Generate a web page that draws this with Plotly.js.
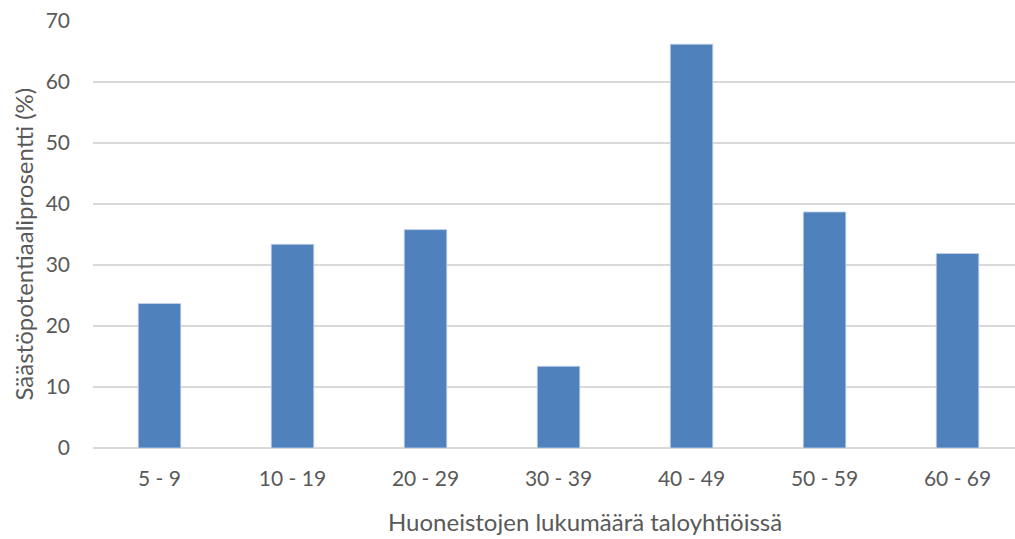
<!DOCTYPE html>
<html>
<head>
<meta charset="utf-8">
<script src="https://cdn.plot.ly/plotly-3.0.1.min.js"></script>
<style>html,body{margin:0;padding:0;background:#fff;overflow:hidden;}#chart{width:1015px;height:539px;}</style>
</head>
<body>
<div id="chart"></div>
<script>
var categories = ["5 - 9", "10 - 19", "20 - 29", "30 - 39", "40 - 49", "50 - 59", "60 - 69"];
var values = [23.7, 33.4, 35.8, 13.4, 66.2, 38.7, 31.9];
var yTicks = [0, 10, 20, 30, 40, 50, 60, 70];
var xTitle = "Huoneistojen lukumäärä taloyhtiöissä";
var yTitle = "Säästöpotentiaaliprosentti (%)";

var trace = {
  type: "bar",
  x: categories,
  y: values,
  width: 0.32,
  marker: {color: "#4f81bd", line: {color: "#c9d6ea", width: 0.8}},
  hoverinfo: "x+y"
};

var layout = {
  width: 1015,
  height: 539,
  margin: {l: 93, r: 0, t: 21, b: 91, pad: 0},
  paper_bgcolor: "#ffffff",
  plot_bgcolor: "#ffffff",
  font: {family: "Lato, sans-serif", color: "#595959", size: 21},
  showlegend: false,
  xaxis: {
    type: "category",
    range: [-0.5, 6.432],
    showgrid: false,
    zeroline: false,
    showline: false,
    ticks: "",
    tickfont: {size: 21, color: "#595959"},
    ticklabelstandoff: 16
  },
  yaxis: {
    range: [0, 70],
    tickvals: yTicks,
    showgrid: true,
    gridcolor: "#d9d9d9",
    gridwidth: 1.5,
    zeroline: true,
    zerolinecolor: "#d9d9d9",
    zerolinewidth: 1.5,
    showline: false,
    ticks: "",
    tickfont: {size: 21, color: "#595959"},
    ticklabelstandoff: 22
  },
  annotations: [
    {
      text: xTitle, xref: "paper", yref: "paper",
      x: 0.5336, y: -0.171, xanchor: "center", yanchor: "middle",
      showarrow: false, font: {size: 24, color: "#595959"}
    },
    {
      text: yTitle, xref: "paper", yref: "paper", textangle: -90,
      x: -0.0759, y: 0.4766, xanchor: "center", yanchor: "middle",
      showarrow: false, font: {size: 24, color: "#595959"}
    }
  ]
};

Plotly.newPlot("chart", [trace], layout, {displayModeBar: false, staticPlot: true});
</script>
</body>
</html>
